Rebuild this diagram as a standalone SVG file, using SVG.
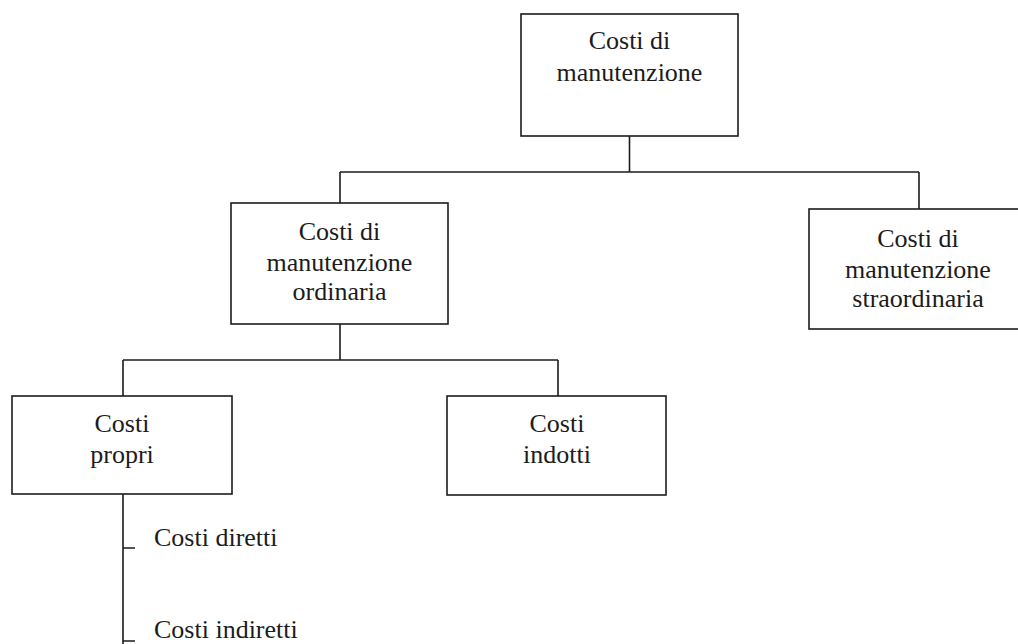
<svg xmlns="http://www.w3.org/2000/svg" width="1018" height="644" viewBox="0 0 1018 644">
  <style>
    .box { fill: #ffffff; stroke: #1c1c1c; stroke-width: 1.6; }
    .wire { fill: none; stroke: #1c1c1c; stroke-width: 1.6; }
    .lbl { font-family: "Liberation Serif", "Times New Roman", serif; font-size: 26px; fill: #1c1c1c; text-anchor: middle; }
    .item { font-family: "Liberation Serif", "Times New Roman", serif; font-size: 26px; fill: #1c1c1c; }
  </style>
  <rect width="1018" height="644" fill="#ffffff"/>

  <!-- connectors -->
  <g id="connectors" class="wire">
    <path d="M629.5,136 V172 M340,172 H919 M340,172 V203 M919,172 V209"/>
    <path d="M340,324 V360 M123,360 H558 M123,360 V396 M558,360 V396"/>
    <path d="M123,494 V644 M123,548 H135 M123,641 H135"/>
  </g>

  <!-- root -->
  <g id="costi-manutenzione">
    <rect class="box" x="521" y="14" width="217" height="122"/>
    <text class="lbl" x="629.5" y="49">Costi di</text>
    <text class="lbl" x="629.5" y="81">manutenzione</text>
  </g>

  <!-- ordinary maintenance -->
  <g id="manutenzione-ordinaria">
    <rect class="box" x="231" y="203" width="217" height="121"/>
    <text class="lbl" x="339.5" y="240">Costi di</text>
    <text class="lbl" x="339.5" y="271">manutenzione</text>
    <text class="lbl" x="339.5" y="300">ordinaria</text>
  </g>

  <!-- extraordinary maintenance -->
  <g id="manutenzione-straordinaria">
    <rect class="box" x="809" y="209" width="220" height="120"/>
    <text class="lbl" x="918" y="247">Costi di</text>
    <text class="lbl" x="918" y="278">manutenzione</text>
    <text class="lbl" x="918" y="307">straordinaria</text>
  </g>

  <!-- own costs -->
  <g id="costi-propri">
    <rect class="box" x="12" y="396" width="220" height="98"/>
    <text class="lbl" x="122" y="432">Costi</text>
    <text class="lbl" x="122" y="463">propri</text>
  </g>

  <!-- induced costs -->
  <g id="costi-indotti">
    <rect class="box" x="447" y="396" width="219" height="99"/>
    <text class="lbl" x="557" y="432">Costi</text>
    <text class="lbl" x="557" y="463">indotti</text>
  </g>

  <!-- sub-items of own costs -->
  <g id="costi-diretti">
    <text class="item" x="154" y="546">Costi diretti</text>
  </g>
  <g id="costi-indiretti">
    <text class="item" x="154" y="638">Costi indiretti</text>
  </g>
</svg>
